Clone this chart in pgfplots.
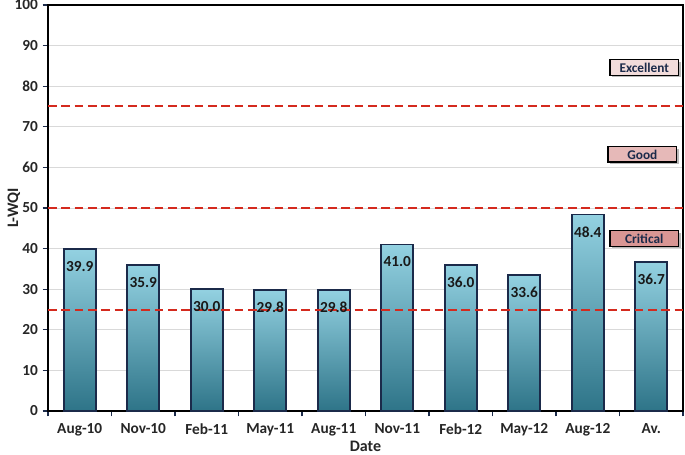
\documentclass[border=0pt]{standalone}
\usepackage{pgfplots}
\pgfplotsset{compat=1.18}
\usepackage{fontspec}
\setmainfont{Carlito}
\usetikzlibrary{shadows}
\definecolor{bartop}{HTML}{93D1E1}
\definecolor{barmid}{HTML}{4DAFC9}
\definecolor{barbot}{HTML}{2E7488}
\definecolor{navy}{HTML}{1B2A4A}
\definecolor{reddash}{HTML}{D42A1E}
\definecolor{exc}{HTML}{F2DCDB}
\definecolor{good}{HTML}{E6B9B8}
\definecolor{crit}{HTML}{D99694}
\begin{document}
\begin{tikzpicture}
\useasboundingbox (-36pt,-32.25pt) rectangle (477.75pt,308.25pt);
\begin{axis}[
  at={(0pt,0pt)}, anchor=south west,
  scale only axis, width=476.25pt, height=304.5pt,
  xmin=-0.5, xmax=9.5, ymin=0, ymax=100,
  ytick={0,10,...,100},
  xtick={0,...,9},
  xticklabels={Aug-10,Nov-10,Feb-11,May-11,Aug-11,Nov-11,Feb-12,May-12,Aug-12,Av.},
  minor xtick={-0.5,0.5,...,9.5},
  major x tick style={draw=none},
  minor tick length=4pt,
  major tick length=4pt,
  tick align=outside,
  xtick pos=bottom, ytick pos=left,
  tick style={navy, line width=0.8pt},
  ymajorgrids, grid style={draw=black!15, line width=0.6pt},
  axis line style={draw=black, line width=0.8pt},
  ticklabel style={font=\bfseries\fontsize{11.5}{13}\selectfont, text=black!85},
  /pgf/number format/assume math mode=true,
  xticklabel style={yshift=-2pt},
  xlabel={Date}, ylabel={L-WQI},
  label style={font=\bfseries\fontsize{12}{14}\selectfont, text=black!85},
  xlabel style={yshift=3.5pt},
  ylabel style={yshift=-11pt},
]
\pgfplotsset{mybar/.style={ybar, bar width=24pt, bar shift=0pt, draw=navy, line width=1.4pt,
  top color=bartop, middle color=barmid, bottom color=barbot,
  nodes near coords={\pgfmathprintnumber[fixed,fixed zerofill,precision=1]{\pgfplotspointmeta}},
  every node near coord/.append style={anchor=north, yshift=-5pt, font=\bfseries\fontsize{11.5}{13}\selectfont, text=black!90}}}
\addplot[mybar] coordinates {(0,39.9)};
\addplot[mybar] coordinates {(1,35.9)};
\addplot[mybar] coordinates {(2,30.0)};
\addplot[mybar] coordinates {(3,29.8)};
\addplot[mybar] coordinates {(4,29.8)};
\addplot[mybar] coordinates {(5,41.0)};
\addplot[mybar] coordinates {(6,36.0)};
\addplot[mybar] coordinates {(7,33.6)};
\addplot[mybar] coordinates {(8,48.4)};
\addplot[mybar] coordinates {(9,36.7)};
\addplot[draw=reddash, line width=1.5pt, dash pattern=on 6.5pt off 3.5pt, forget plot] coordinates {(-0.5,25) (9.5,25)};
\addplot[draw=reddash, line width=1.5pt, dash pattern=on 6.5pt off 3.5pt, forget plot] coordinates {(-0.5,50) (9.5,50)};
\addplot[draw=reddash, line width=1.5pt, dash pattern=on 6.5pt off 3.5pt, forget plot] coordinates {(-0.5,75) (9.5,75)};
\tikzset{lab/.style={draw=black, line width=0.9pt, minimum width=51.5pt, minimum height=11.5pt, inner sep=0pt,
  font=\bfseries\fontsize{10}{11}\selectfont, text=navy, drop shadow={shadow xshift=1.5pt, shadow yshift=-1.5pt, opacity=0.55}}}
\node[lab, fill=exc] at (axis cs:8.89,84.6) {Excellent};
\node[lab, fill=good] at (axis cs:8.86,63.2) {Good};
\node[lab, fill=crit] at (axis cs:8.89,42.5) {Critical};
\end{axis}
\end{tikzpicture}
\end{document}
